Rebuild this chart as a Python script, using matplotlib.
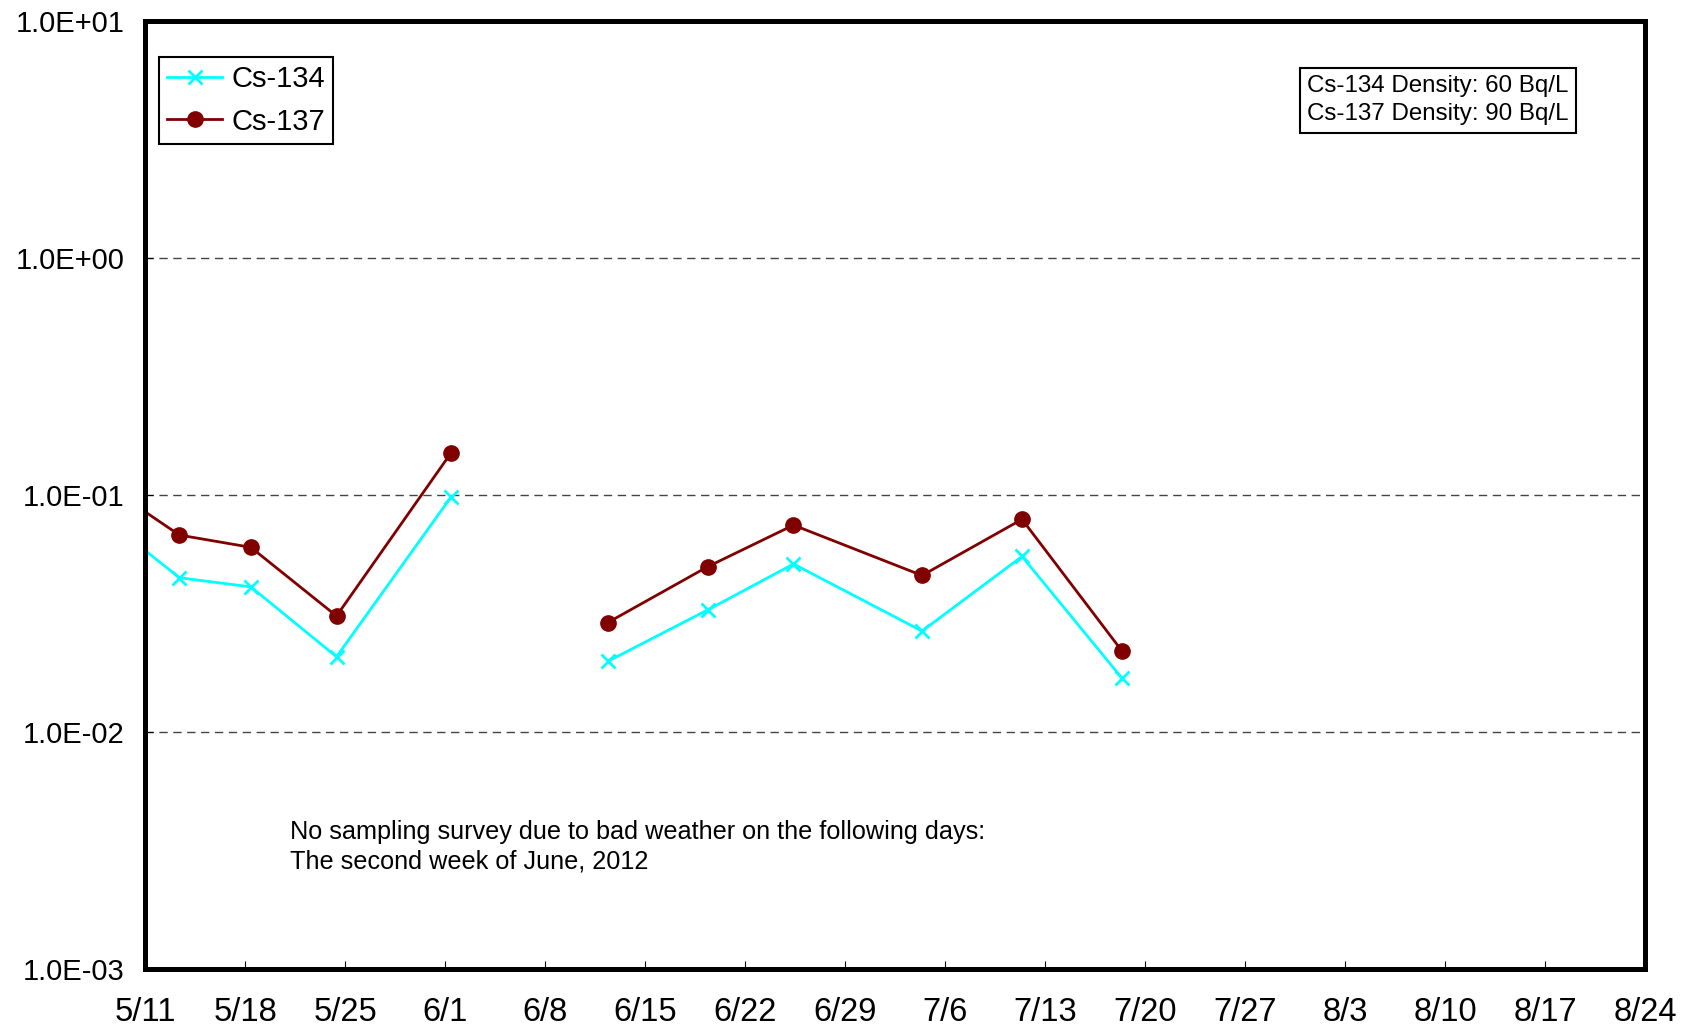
import matplotlib
matplotlib.use('Agg')
import matplotlib.pyplot as plt
from matplotlib.ticker import FuncFormatter, NullLocator
import numpy as np
import pandas as pd

# sampling dates (NaN row breaks the line: no survey in 2nd week of June)
dates = pd.to_datetime(['2012-05-06 09:00', '2012-05-13 09:00', '2012-05-18 09:00',
                        '2012-05-24 09:00', '2012-06-01 09:00', '2012-06-07 09:00',
                        '2012-06-12 09:00', '2012-06-19 09:00', '2012-06-25 09:00',
                        '2012-07-04 09:00', '2012-07-11 09:00', '2012-07-18 09:00'])
cs134 = [0.097, 0.0448, 0.041, 0.0208, 0.0978, np.nan,
         0.0199, 0.0328, 0.0512, 0.0267, 0.0551, 0.0169]
cs137 = [0.131, 0.0678, 0.0602, 0.0309, 0.150, np.nan,
         0.0290, 0.0499, 0.0747, 0.0458, 0.0790, 0.0220]

week_ticks = pd.date_range('2012-05-11', '2012-08-24', freq='7D')
week_labels = ['%d/%d' % (d.month, d.day) for d in week_ticks]

note = ('No sampling survey due to bad weather on the following days:\n'
        'The second week of June, 2012')
density = 'Cs-134 Density: 60 Bq/L\nCs-137 Density: 90 Bq/L'

plt.rcParams['font.family'] = ['Liberation Sans', 'DejaVu Sans']

fig = plt.figure(figsize=(16.83, 10.30), dpi=100)
ax = fig.add_axes([145.5 / 1683, 1 - 969.3 / 1030, 1499.5 / 1683, 948.5 / 1030])

ax.plot(dates, cs134, color='#00FFFF', lw=2, marker='x', ms=10, mew=2, label='Cs-134')
ax.plot(dates, cs137, color='#800000', lw=2, marker='o', ms=11, label='Cs-137')

ax.set_yscale('log')
ax.set_ylim(1e-3, 1e1)
ax.set_xlim(week_ticks[0], week_ticks[-1])
ax.yaxis.set_minor_locator(NullLocator())
ax.yaxis.set_major_formatter(FuncFormatter(lambda v, p: '%.1E' % v))
ax.set_xticks(week_ticks)
ax.set_xticklabels(week_labels, family=['Liberation Sans Narrow', 'Liberation Sans'], fontsize=23.5)
ax.tick_params(axis='x', direction='in', length=6, width=0.8, pad=20)
ax.tick_params(axis='y', direction='in', length=6, width=0.8, pad=15, labelsize=21)
ax.xaxis.set_minor_locator(NullLocator())

ax.yaxis.grid(True, which='major', linestyle=(0, (6, 4)), color='#444444', linewidth=1)
for s in ax.spines.values():
    s.set_linewidth(3.6)

leg = ax.legend(loc='upper left', bbox_to_anchor=(0.0089, 0.962), borderaxespad=0,
                fontsize=21, fancybox=False, framealpha=1, edgecolor='black',
                handlelength=1.9, handletextpad=0.3, labelspacing=0.5, borderpad=0.28,
                numpoints=1)
leg.get_frame().set_linewidth(1.5)

ax.text(0.0962, 0.129, note, transform=ax.transAxes, fontsize=18.2, va='center', ha='left',
        linespacing=1.3)
ax.text(0.7746, 0.916, density, transform=ax.transAxes, fontsize=17.4, va='center', ha='left',
        linespacing=1.35, bbox=dict(boxstyle='square,pad=0.3', fc='white', ec='black', lw=1.5))

plt.savefig('out.png')
plt.close()
